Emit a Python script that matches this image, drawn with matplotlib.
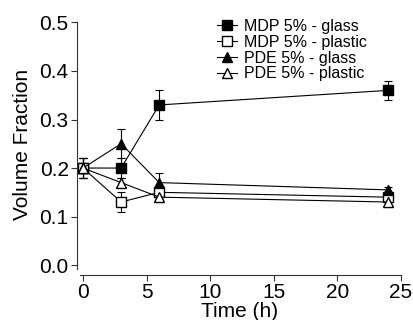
import matplotlib
matplotlib.use("Agg")
import matplotlib.pyplot as plt
from matplotlib.lines import Line2D

plt.rcParams['font.family'] = ['Liberation Sans', 'DejaVu Sans']

time = [0, 3, 6, 24]
mdp_glass = [0.20, 0.20, 0.33, 0.36]
mdp_glass_err = [0.02, 0.02, 0.03, 0.02]
mdp_plastic = [0.20, 0.13, 0.15, 0.14]
mdp_plastic_err = [0.02, 0.02, 0.01, 0.01]
pde_glass = [0.20, 0.25, 0.17, 0.155]
pde_glass_err = [0.02, 0.03, 0.02, 0.005]
pde_plastic = [0.20, 0.17, 0.14, 0.13]
pde_plastic_err = [0.02, 0.01, 0.01, 0.01]

fig = plt.figure(figsize=(4.14, 3.2), dpi=100)
ax = fig.add_axes([77/414, 1-269/320, (402-77)/414, (269-20)/320])

series = [
    (mdp_glass, mdp_glass_err, 's', 'black', "MDP 5% - glass"),
    (mdp_plastic, mdp_plastic_err, 's', 'white', "MDP 5% - plastic"),
    (pde_glass, pde_glass_err, '^', 'black', "PDE 5% - glass"),
    (pde_plastic, pde_plastic_err, '^', 'white', "PDE 5% - plastic"),
]
handles = []
for y, e, m, fc, lab in series:
    ax.errorbar(time, y, yerr=e, marker=m, markersize=7, mfc=fc, mec='black',
                color='black', lw=0.8, elinewidth=0.8, capsize=3, capthick=0.8,
                ecolor='black')
    handles.append(Line2D([], [], marker=m, markersize=7, mfc=fc, mec='black',
                          color='black', lw=0.8, label=lab))

ax.set_xlim(-0.47, 25.1)
ax.set_ylim(-0.008, 0.505)
ax.set_xticks([0, 5, 10, 15, 20, 25])
ax.set_yticks([0.0, 0.1, 0.2, 0.3, 0.4, 0.5])
ax.set_yticklabels(["0.0", "0.1", "0.2", "0.3", "0.4", "0.5"])
ax.spines['top'].set_visible(False)
ax.spines['right'].set_visible(False)
ax.spines['bottom'].set_position(('outward', 4))
ax.spines['bottom'].set_bounds(-0.2, 25)
ax.spines['left'].set_bounds(-0.008, 0.5)
for s in ['left', 'bottom']:
    ax.spines[s].set_linewidth(0.8)
    ax.spines[s].set_color('#333333')
ax.tick_params(labelsize=15, width=0.8, length=4, color='#333333', pad=2)
ax.set_xlabel("Time (h)", fontsize=15, labelpad=0)
ax.set_ylabel("Volume Fraction", fontsize=15, labelpad=5)

ax.legend(handles=handles, loc='upper left', bbox_to_anchor=(0.41, 1.03),
          frameon=False, fontsize=11.5, handlelength=1.3, handletextpad=0.4,
          labelspacing=0.05, borderaxespad=0)

fig.savefig("out.png", dpi=100)
